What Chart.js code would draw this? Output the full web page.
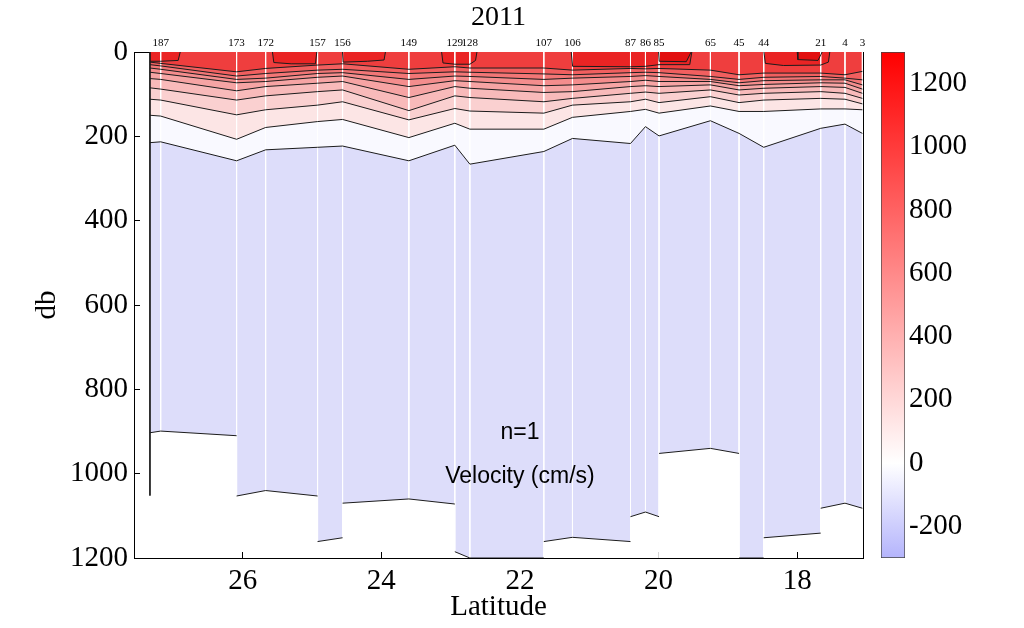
<!DOCTYPE html>
<html>
<head>
<meta charset="utf-8">
<script src="https://cdn.jsdelivr.net/npm/chart.js@4/dist/chart.umd.min.js"></script>
<style>
  html, body { margin: 0; padding: 0; background: #fff; }
  #wrap { position: relative; width: 1024px; height: 628px; }
  #main { position: absolute; left: 0; top: 0; }
  #bar { position: absolute; left: 870px; top: 0; }
</style>
</head>
<body>
<div id="wrap">
  <canvas id="main" width="870" height="628"></canvas>
  <canvas id="bar" width="154" height="628"></canvas>
</div>
<script>
// Stations along the section (top labels) and their latitudes
const stationLabels = ['187', '173', '172', '157', '156', '149', '129', '128', '107', '106', '87', '86', '85', '65', '45', '44', '21', '4', '3'];
const stationLat = [27.182, 26.087, 25.668, 24.919, 24.558, 23.602, 22.939, 22.722, 21.655, 21.242, 20.405, 20.189, 19.993, 19.252, 18.839, 18.483, 17.661, 17.311, 17.06];

// Contour lines: depth (db) at the western data edge and at every station
const contourLat = [27.337, ...stationLat];
const depth0   = [215, 213, 258, 232, 226, 223, 258, 221, 266, 236, 205, 217, 177, 199, 163, 193, 226, 181, 171, 193];
const depth100 = [150, 152, 207, 179, 165, 160, 203, 169, 183, 183, 155, 141, 136, 145, 128, 141, 141, 135, 135, 137];
const depth200 = [112, 114, 149, 137, 126, 118, 161, 134, 140, 145, 126, 118, 112, 120, 106, 120, 114, 110, 112, 123];
const depth300 = [85, 88, 114, 104, 94, 90, 139, 104, 108, 118, 110, 98, 95, 98, 90, 102, 98, 94, 98, 110];
const depth400 = [63, 65, 92, 82, 74, 70, 108, 82, 86, 96, 94, 82, 80, 82, 78, 90, 86, 82, 84, 98];
const depth500 = [48, 51, 73, 70, 60, 57, 82, 68, 70, 80, 78, 70, 67, 70, 70, 80, 77, 73, 74, 88];
const depth600 = [38, 41, 65, 62, 51, 49, 65, 57, 58, 65, 62, 58, 56, 58, 65, 73, 68, 66, 66, 78];
const depth700 = [30, 33, 57, 51, 43, 41, 51, 47, 48, 52, 54, 49, 48, 49, 58, 65, 60, 58, 62, 66];
const depth800 = [24, 27, 47, 39, 31, 28, 41, 35, 38, 38, 43, 39, 40, 39, 43, 54, 50, 50, 54, 46];

// Deepest data (lower edge of the section), stepping at stations
const bottomLat = [27.337, 27.182, 26.087, 26.087, 25.668, 24.919, 24.919, 24.558, 24.558, 23.602, 22.939, 22.939, 22.722, 21.655, 21.655, 21.242, 20.405, 20.405, 20.189, 19.993, 19.993, 19.252, 18.839, 18.839, 18.483, 18.483, 17.661, 17.661, 17.311, 17.06];
const bottomDepth = [903, 899, 910, 1053, 1040, 1053, 1161, 1152, 1070, 1060, 1072, 1185, 1200, 1200, 1161, 1151, 1161, 1102, 1091, 1102, 952, 940, 952, 1200, 1200, 1152, 1141, 1082, 1070, 1082];

// Western edge profile line
const edgeLat = 27.337;
const edgeDepth = [0, 1052];

// Strongest cores near the surface: [lat, db]
const core900a = [[26.90, 0], [26.93, 20], [27.182, 22], [27.337, 22]];
const core900b = [[25.57, 0], [25.55, 25], [25.30, 28], [24.95, 28], [24.93, 0]];
const core900c = [[24.56, 0], [24.55, 24], [24.20, 22], [23.96, 19], [23.94, 0]];
const core900d = [[23.13, 0], [23.11, 26], [22.939, 29], [22.722, 29], [22.64, 20], [22.62, 0]];
const core900e = [[21.26, 0], [21.24, 34], [20.405, 35], [20.189, 34], [19.993, 30], [19.55, 30], [19.52, 0]];
const core900f = [[18.48, 0], [18.46, 27], [18.20, 32], [17.661, 31], [17.55, 24], [17.53, 0]];
const core1000e = [[20.00, 0], [19.99, 22], [19.60, 23], [19.53, 0]];
const core1000f = [[18.00, 0], [17.99, 18], [17.70, 20], [17.64, 0]];

// Axis ticks
const latTicks = [18, 20, 22, 24, 26];
const depthTicks = [0, 200, 400, 600, 800, 1000, 1200];
const cbTicks = [-200, 0, 200, 400, 600, 800, 1000, 1200];
const cbRange = [-300, 1300];
const noteLines = ['n=1', 'Velocity (cm/s)'];

// styles
const serif = "'Liberation Serif', 'Times New Roman', serif";
const sans = "'Liberation Sans', Arial, sans-serif";
const lineColor = '#1c1c1c';
const blueFill = 'rgb(221,221,250)';
const bandColors = [
  'rgb(249,249,255)', 'rgb(252,229,229)', 'rgb(250,208,208)', 'rgb(248,186,186)',
  'rgb(246,164,164)', 'rgb(244,141,141)', 'rgb(242,118,118)', 'rgb(241,95,95)', 'rgb(239,62,62)'
];
const coreColors = ['rgb(234,36,36)', 'rgb(226,16,16)'];

const contours = [depth0, depth100, depth200, depth300, depth400, depth500, depth600, depth700, depth800];
const cores900 = [core900a, core900b, core900c, core900d, core900e, core900f];
const cores1000 = [core1000e, core1000f];

const datasets = [];

// lower edge of data: blue fill up to the surface, step edges not stroked
datasets.push({
  data: bottomLat.map((x, i) => ({ x, y: bottomDepth[i] })),
  fill: 'end',
  backgroundColor: blueFill,
  borderColor: lineColor,
  borderWidth: 1,
  segment: {
    borderColor: c => c.p0.parsed.x === c.p1.parsed.x ? 'rgba(0,0,0,0)' : lineColor
  },
  order: 100
});

contours.forEach((d, k) => {
  datasets.push({
    data: contourLat.map((x, i) => ({ x, y: d[i] })),
    fill: 'end',
    backgroundColor: bandColors[k],
    borderColor: lineColor,
    borderWidth: 1,
    order: 90 - k
  });
});

cores900.forEach((c, k) => {
  datasets.push({
    data: c.map(p => ({ x: p[0], y: p[1] })),
    fill: 'end',
    backgroundColor: coreColors[0],
    borderColor: lineColor,
    borderWidth: 1,
    order: 60 - k
  });
});

cores1000.forEach((c, k) => {
  datasets.push({
    data: c.map(p => ({ x: p[0], y: p[1] })),
    fill: 'end',
    backgroundColor: coreColors[1],
    borderColor: lineColor,
    borderWidth: 1,
    order: 50 - k
  });
});

// white station lines, drawn under the black contour lines
stationLat.forEach(lat => {
  datasets.push({
    data: [{ x: lat, y: 0 }, { x: lat, y: 1200 }],
    fill: false,
    borderColor: '#ffffff',
    borderWidth: 1,
    order: 200
  });
});

datasets.push({
  data: edgeDepth.map(y => ({ x: edgeLat, y })),
  fill: false,
  borderColor: lineColor,
  borderWidth: 1,
  order: 5
});

// text inside the plot
const notePlugin = {
  id: 'notes',
  afterDatasetsDraw(chart) {
    const { ctx, scales: { x, y } } = chart;
    ctx.save();
    ctx.font = '23px ' + sans;
    ctx.fillStyle = '#000';
    ctx.textAlign = 'center';
    ctx.textBaseline = 'middle';
    ctx.fillText(noteLines[0], x.getPixelForValue(22.0), y.getPixelForValue(903));
    ctx.fillText(noteLines[1], x.getPixelForValue(22.0), y.getPixelForValue(1008));
    ctx.restore();
  }
};

const tickFont = { family: serif, size: 29 };
const plain = v => String(v);

new Chart(document.getElementById('main'), {
  type: 'line',
  data: { datasets },
  options: {
    responsive: false,
    animation: false,
    events: [],
    layout: { padding: 0 },
    elements: { point: { radius: 0 }, line: { tension: 0 } },
    plugins: {
      legend: { display: false },
      tooltip: { enabled: false },
      filler: { drawTime: 'beforeDatasetsDraw' }
    },
    scales: {
      x: {
        type: 'linear', position: 'bottom', reverse: true, min: 17.051, max: 27.567,
        afterBuildTicks: s => { s.ticks = latTicks.map(v => ({ value: v })); },
        afterFit: s => { s.height = 70; },
        ticks: { callback: plain, font: tickFont, color: '#000', padding: 12, maxRotation: 0, autoSkip: false },
        grid: { drawOnChartArea: false, tickLength: -6, color: '#000' },
        border: { color: '#000' },
        title: { display: true, text: 'Latitude', font: tickFont, color: '#000', padding: { top: 0, bottom: 3 } },
        z: 1
      },
      x2: {
        type: 'linear', position: 'top', reverse: true, min: 17.051, max: 27.567,
        afterBuildTicks: s => { s.ticks = stationLat.map(v => ({ value: v })); },
        afterFit: s => { s.height = 52; },
        ticks: {
          callback: (v, i) => stationLabels[i],
          font: { family: serif, size: 11 }, color: '#000', padding: 2, maxRotation: 0, autoSkip: false
        },
        grid: { display: false, drawTicks: false },
        border: { display: true, color: '#000' },
        title: { display: true, text: '2011', font: { family: serif, size: 28 }, color: '#000', padding: { top: 1, bottom: 0 } },
        z: 1
      },
      y: {
        type: 'linear', position: 'left', reverse: true, min: 0, max: 1200,
        afterBuildTicks: s => { s.ticks = depthTicks.map(v => ({ value: v })); },
        afterFit: s => { s.width = 134; },
        ticks: { callback: plain, font: tickFont, color: '#000', padding: 12 },
        grid: { drawOnChartArea: false, tickLength: -6, color: '#000' },
        border: { color: '#000' },
        title: { display: true, text: 'db', font: tickFont, color: '#000', padding: { top: 30, bottom: 0 } },
        z: 1
      },
      yR: {
        type: 'linear', position: 'right', reverse: true, min: 0, max: 1200,
        afterBuildTicks: s => { s.ticks = depthTicks.map(v => ({ value: v })); },
        afterFit: s => { s.width = 7; },
        ticks: { display: false },
        grid: { drawOnChartArea: false, tickLength: -6, color: '#000' },
        border: { color: '#000' },
        z: 1
      }
    }
  },
  plugins: [notePlugin]
});

// colour bar
new Chart(document.getElementById('bar'), {
  type: 'bar',
  data: {
    labels: [''],
    datasets: [{
      data: [cbRange],
      backgroundColor(c) {
        const chart = c.chart;
        if (!chart.chartArea) return '#fff';
        const y = chart.scales.y;
        const g = chart.ctx.createLinearGradient(0, y.getPixelForValue(cbRange[0]), 0, y.getPixelForValue(cbRange[1]));
        g.addColorStop(0, 'rgb(180,180,252)');
        g.addColorStop((0 - cbRange[0]) / (cbRange[1] - cbRange[0]), '#ffffff');
        g.addColorStop(1, 'rgb(255,0,0)');
        return g;
      },
      borderColor: '#444',
      borderWidth: 1,
      borderSkipped: false,
      barPercentage: 1,
      categoryPercentage: 1
    }]
  },
  options: {
    responsive: false,
    animation: false,
    events: [],
    layout: { padding: { left: 11, top: 52, bottom: 70, right: 0 } },
    plugins: { legend: { display: false }, tooltip: { enabled: false } },
    scales: {
      x: { display: false },
      y: {
        position: 'right', min: cbRange[0], max: cbRange[1],
        afterBuildTicks: s => { s.ticks = cbTicks.map(v => ({ value: v })); },
        afterFit: s => { s.width = 119; },
        ticks: { callback: plain, font: tickFont, color: '#000', padding: 9 },
        grid: { drawOnChartArea: false, tickLength: -5, color: '#000' },
        border: { display: false },
        z: 1
      }
    }
  }
});
</script>
</body>
</html>
